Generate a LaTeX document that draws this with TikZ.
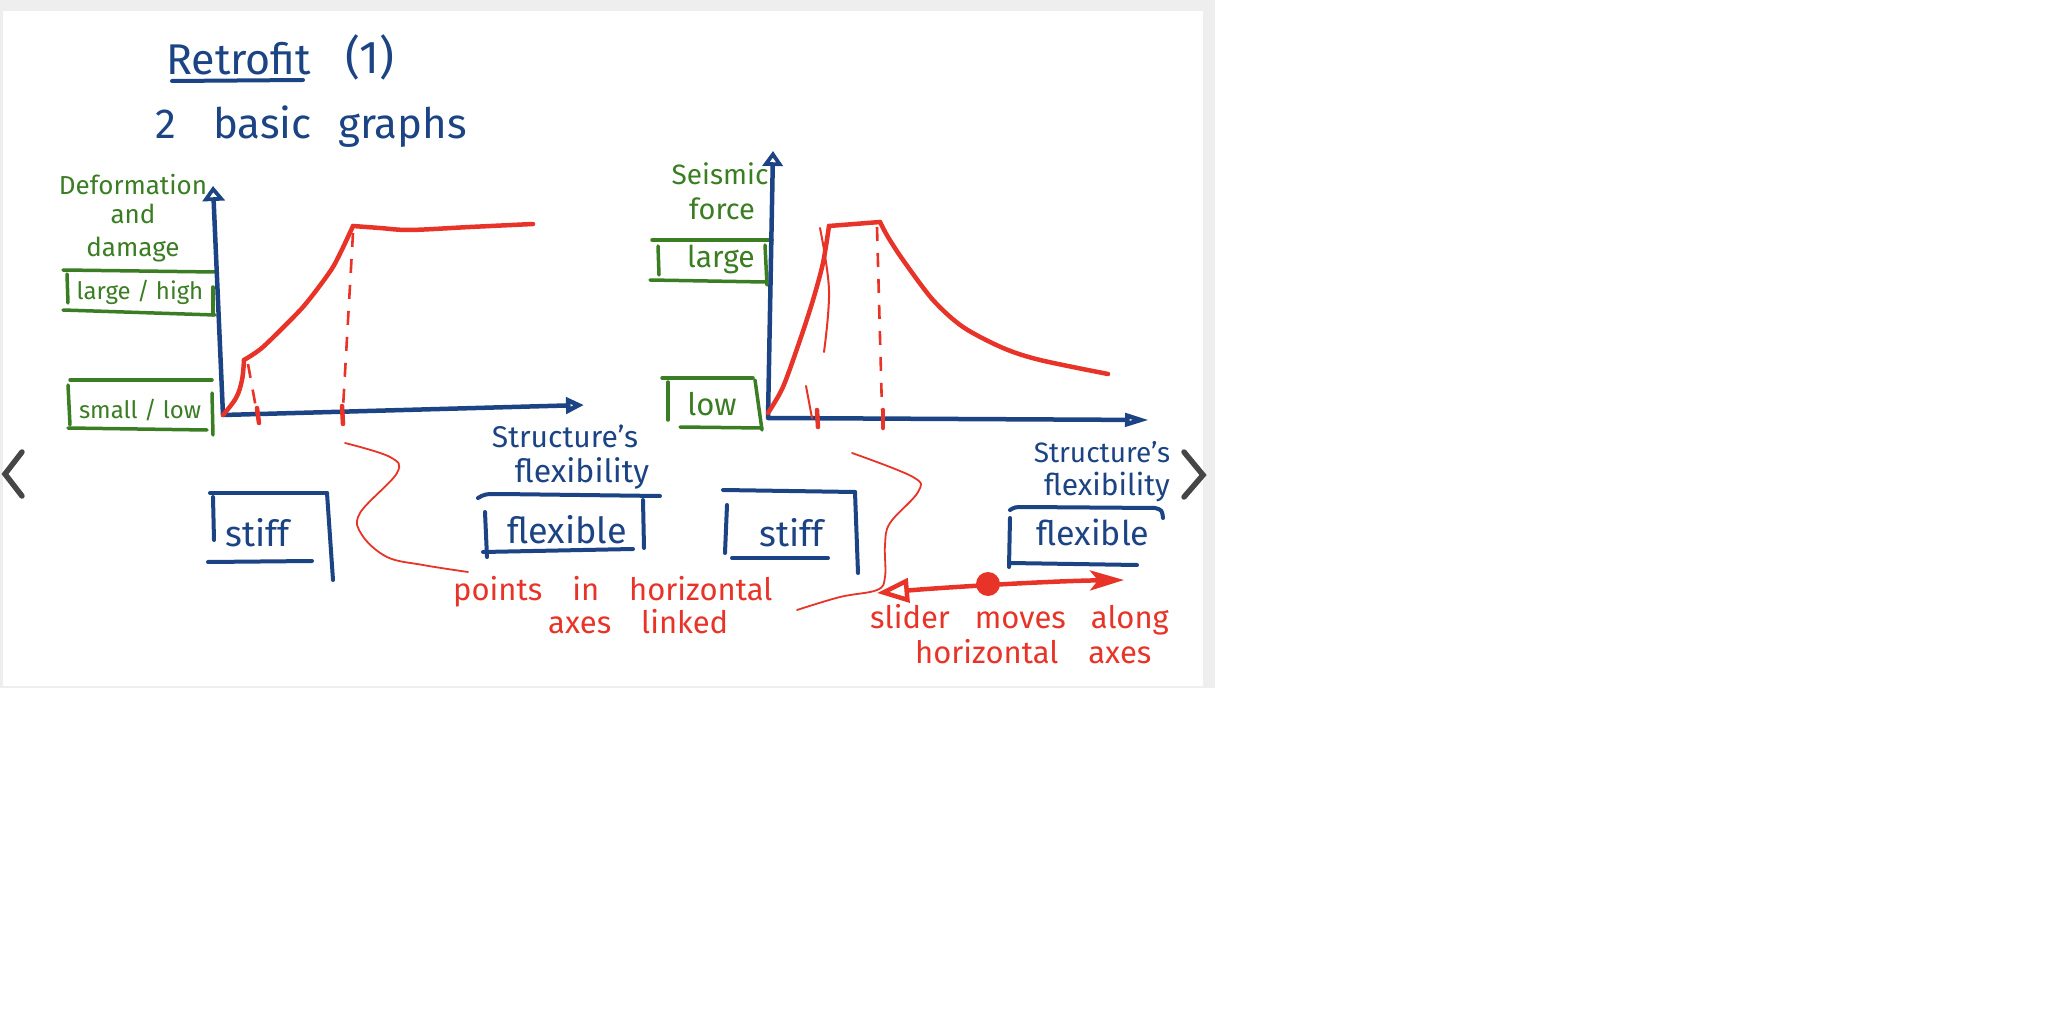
\documentclass[tikz,border=0pt]{standalone}
\usepackage{fontspec}
\setmainfont{Fira Sans}
\usetikzlibrary{arrows.meta}
\definecolor{inkblue}{RGB}{28,68,132}
\definecolor{inkgreen}{RGB}{58,125,34}
\definecolor{inkred}{RGB}{232,52,40}
\definecolor{bggray}{RGB}{238,238,238}
\definecolor{chevgray}{RGB}{70,70,70}
\newcommand{\widesp}{\spaceskip=30pt\relax}
\newcommand{\midsp}{\spaceskip=25pt\relax}
\begin{document}
\begin{tikzpicture}[x=1pt,y=-1pt,
  bl/.style={draw=inkblue,line width=4pt,line cap=round,line join=round},
  gl/.style={draw=inkgreen,line width=3.5pt,line cap=round,line join=round},
  rl/.style={draw=inkred,line width=4.5pt,line cap=round,line join=round},
  rthin/.style={draw=inkred,line width=1.8pt,line cap=round,line join=round},
  rdash/.style={draw=inkred,line width=2.6pt,dash pattern=on 14pt off 12pt},
  rtick/.style={draw=inkred,line width=4.5pt,line cap=round},
  axisline/.style={draw=inkblue,line width=4.5pt,line join=round,
     {Triangle[open,length=15pt,width=22pt]}-{Triangle[open,length=18pt,width=16pt]}},
  btxt/.style={text=inkblue,inner sep=0pt},
  gtxt/.style={text=inkgreen,inner sep=0pt,font=\fontsize{26}{32}\selectfont},
  rtxt/.style={text=inkred,inner sep=0pt,anchor=base west,
     font=\fontsize{31}{36}\selectfont},
  chev/.style={draw=chevgray,line width=5.5pt,line cap=round,line join=miter}
]
\useasboundingbox (0,0) rectangle (2048,1024);
\fill[white] (0,0) rectangle (2048,1024);
\fill[bggray] (0,0) rectangle (1215,688);
\fill[white] (3,11) rectangle (1203,686);

% ---------- title ----------
\node[btxt,anchor=base west,font=\fontsize{43}{50}\selectfont] (title) at (166,75) {Retrofit};
\node[btxt,anchor=base west,font=\fontsize{46}{52}\selectfont] (titlenum) at (345,74) {(1)};
\draw[bl] (172,81) -- (303,80);
\node[btxt,anchor=base west,font=\fontsize{42}{48}\selectfont] (sub1) at (155,139) {2};
\node[btxt,anchor=base west,font=\fontsize{42}{48}\selectfont] (sub2) at (213,139) {basic};
\node[btxt,anchor=base west,font=\fontsize{42}{48}\selectfont] (sub3) at (338,139) {graphs};

% ---------- left graph ----------
\node[gtxt,anchor=base] (ylabL1) at (133,195) {Deformation};
\node[gtxt,anchor=base] (ylabL2) at (133,224) {and};
\node[gtxt,anchor=base] (ylabL3) at (133,257) {damage};
\node[gtxt,anchor=base,font=\fontsize{24}{30}\selectfont] (largehigh) at (140,300) {large / high};
\draw[gl] (63,270) -- (215,272);
\draw[gl] (63,310) -- (215,315);
\draw[gl] (67,274) -- (68,303);
\draw[gl] (213,287) -- (213,315);
\node[gtxt,anchor=base,font=\fontsize{24}{30}\selectfont] (smalllow) at (140,418) {small / low};
\draw[gl] (70,380) -- (212,380);
\draw[gl] (68,428) -- (207,430);
\draw[gl] (68,385) -- (70,425);
\draw[gl] (212,393) -- (213,435);

\draw[axisline] (213,186) -- (223,415) -- (584,405);

\draw[rl] plot[smooth,tension=0.6] coordinates {(223,415) (236,398) (242,380) (244,360)};
\draw[rl] plot[smooth,tension=0.4] coordinates {(244,360) (263,347) (303,307) (333,267) (353,226)};
\draw[rl] plot[smooth,tension=0.5] coordinates {(353,226) (380,228) (410,230) (470,227) (533,224)};
\draw[rdash] (248,364) -- (256,408);
\draw[rdash] (353,233) -- (343,408);
\draw[rtick] (257,408) -- (259,423);
\draw[rtick] (342,406) -- (343,424);

% ---------- right graph ----------
\node[gtxt,anchor=base,font=\fontsize{28}{34}\selectfont] (ylabR1) at (720,185) {Seismic};
\node[gtxt,anchor=base,font=\fontsize{29}{34}\selectfont] (ylabR2) at (722,220) {force};
\node[gtxt,anchor=base,font=\fontsize{30}{34}\selectfont] (large) at (721,268) {large};
\draw[gl] (652,240) -- (772,240);
\draw[gl] (650,280) -- (765,282);
\draw[gl] (658,246) -- (659,275);
\draw[gl] (765,245) -- (767,285);
\node[gtxt,anchor=base,font=\fontsize{31}{34}\selectfont] (low) at (712,415) {low};
\draw[gl] (662,378) -- (753,378);
\draw[gl] (680,427) -- (762,428);
\draw[gl] (668,382) -- (668,420);
\draw[gl] (755,380) -- (762,430);

\draw[axisline,{Triangle[open,length=15pt,width=20pt]}-{Triangle[open,length=24pt,width=13pt]}] (773,151) -- (768,418) -- (1149,420);

\draw[rl] plot[smooth,tension=0.5] coordinates {(768,413) (783,387) (800,340) (813,300) (823,263) (829,226)};
\draw[rl] (829,226) -- (880,222);
\draw[rl] plot[smooth,tension=0.5] coordinates {(880,222) (888,237) (903,260) (933,300) (963,327) (1003,348) (1040,360) (1108,374)};
\draw[rthin,line width=2pt] plot[smooth,tension=0.6] coordinates {(820,228) (829,290) (824,352)};
\draw[rthin,line width=2pt] (806,386) -- (812,418);
\draw[rdash] (877,227) -- (882,410);
\draw[rtick] (817,410) -- (818,427);
\draw[rtick] (883,410) -- (883,428);

% ---------- lower left ----------
\node[btxt,anchor=base,font=\fontsize{36}{40}\selectfont] (stiffL) at (258,546) {stiff};
\draw[bl] (210,493) -- (327,493);
\draw[bl] (213,497) -- (214,540);
\draw[bl] (327,493) -- (333,580);
\draw[bl] (208,562) -- (312,561);

\node[btxt,anchor=base,font=\fontsize{30}{34}\selectfont] (structL1) at (565,447) {Structure's};
\node[btxt,anchor=base,font=\fontsize{32}{36}\selectfont] (structL2) at (582,482) {flexibility};
\draw[bl] (478,498) .. controls (485,494) .. (500,494) -- (660,496);
\node[btxt,anchor=base,font=\fontsize{36}{40}\selectfont] (flexL) at (567,543) {flexible};
\draw[bl] (485,512) -- (487,557);
\draw[bl] (643,500) -- (644,548);
\draw[bl] (483,552) -- (633,549);

\draw[rthin] plot[smooth,tension=0.6] coordinates {(345,443) (390,457) (397,473) (360,513) (362,535) (387,557) (423,565) (468,572)};
\node[rtxt] (linkA) at (453,600) {\widesp points in horizontal};
\node[rtxt] (linkB) at (548,633) {\widesp axes linked};

% ---------- lower right ----------
\node[btxt,anchor=base,font=\fontsize{36}{40}\selectfont] (stiffR) at (792,546) {stiff};
\draw[bl] (723,490) -- (855,492);
\draw[bl] (727,505) -- (725,553);
\draw[bl] (855,492) -- (858,573);
\draw[bl] (732,558) -- (828,558);

\node[btxt,anchor=base,font=\fontsize{28}{32}\selectfont] (structR1) at (1102,462) {Structure's};
\node[btxt,anchor=base,font=\fontsize{30}{34}\selectfont] (structR2) at (1107,495) {flexibility};
\draw[bl] (1010,510) .. controls (1015,507) .. (1025,507) -- (1155,508) .. controls (1162,510) .. (1163,518);
\node[btxt,anchor=base,font=\fontsize{34}{38}\selectfont] (flexR) at (1093,545) {flexible};
\draw[bl] (1010,518) -- (1009,567);
\draw[bl] (1010,563) -- (1137,565);

\draw[rthin] plot[smooth,tension=0.6] coordinates {(852,453) (913,477) (918,492) (890,523) (885,545) (885,577) (877,590) (840,597) (797,610)};

\coordinate (sliderL) at (877,593);
\coordinate (sliderR) at (1124,580);
\draw[rl,{Triangle[open,length=32pt,width=24pt]}-{Stealth[length=34pt,width=20pt,inset=8pt]}] (sliderL) .. controls (950,587) and (1050,581) .. (sliderR);
\node[circle,fill=inkred,minimum size=24pt,inner sep=0pt] (knob) at (988,584) {};
\node[rtxt] (slideA) at (870,628) {\midsp slider moves along};
\node[rtxt] (slideB) at (915,663) {\widesp horizontal axes};

% ---------- navigation chevrons ----------
\draw[chev] (22,452) -- (5,474) -- (22,496);
\draw[chev] (1184,452) -- (1203,475) -- (1184,497);
\end{tikzpicture}
\end{document}
